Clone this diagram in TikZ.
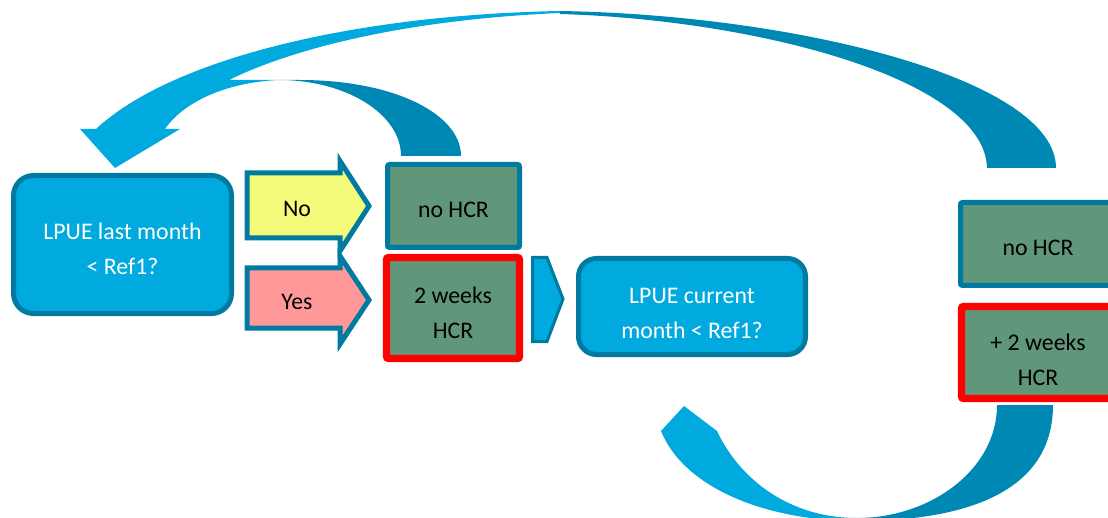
\documentclass[tikz,border=0pt]{standalone}
\usepackage{fontspec}
\setmainfont{Carlito}
\usetikzlibrary{calc}

\definecolor{lblue}{RGB}{0,170,222}
\definecolor{dblue}{RGB}{0,136,180}
\definecolor{edge}{RGB}{0,122,160}
\definecolor{yel}{RGB}{244,251,122}
\definecolor{pink}{RGB}{255,153,153}
\definecolor{hcr}{RGB}{96,150,122}

\tikzset{
	txt/.style = {font=\fontsize{11.9pt}{17.5pt}\selectfont, align=center, inner sep=0pt},
	qtxt/.style = {txt, text=white},
	question/.style = {draw=edge, line width=2.5pt, fill=lblue, rounded corners=10pt, inner sep=0pt},
	hcrbox/.style = {draw=edge, line width=2.5pt, fill=hcr, rounded corners=1pt, inner sep=0pt},
	hcrred/.style = {hcrbox, draw=red, line width=3.6pt},
	blockarrow/.style = {draw=edge, line width=2.5pt},
}

\begin{document}
\begin{tikzpicture}[x=0.5pt, y=-0.5pt]
%		\draw (0,0) grid[step=50] (1108,518);
		\clip (0,0) rectangle (1108,518);
		
		\coordinate (Htip) at (115,168);
		\coordinate (Btip) at (684,406);
		
		% curved arrows back to the start
		\fill[dblue] (560,11) .. controls (800,15) and (1056,80) .. (1056,168) -- (987,168)
			.. controls (985,80) and (760,20) .. (560,14) -- cycle;
		\fill[dblue] (279,80) -- (300,80) .. controls (394,80) and (461,114) .. (461,156) -- (401,156)
			.. controls (401,114) and (346,80) .. (279,80) -- cycle;
		\fill[lblue] (80,129) -- (96,129) .. controls (170,60) and (350,15) .. (560,11) -- (560,13)
			.. controls (400,20) and (290,50) .. (229,80) -- (279,80)
			.. controls (230,82) and (185,100) .. (165,129) -- (180,129) -- (Htip) -- cycle;
		
		\fill[dblue] (857,521) .. controls (960,521) and (1053,495) .. (1053,405) -- (997,405)
			.. controls (997,470) and (930,518) .. (857,518) -- cycle;
		\fill[lblue] (Btip) -- (717,431) .. controls (740,480) and (790,518) .. (857,518) -- (857,521)
			.. controls (770,521) and (685,490) .. (661,431) -- cycle;
		
		% block arrows
		\draw[blockarrow, fill=yel] (247,173) -- (340,173) -- (340,161) -- (369,206) -- (340,251) -- (340,238) -- (247,238) -- cycle;
		\draw[blockarrow, fill=pink] (247,268) -- (340,268) -- (340,256) -- (369,300) -- (340,344) -- (340,328) -- (247,328) -- cycle;
		\draw[draw=edge, line width=1.5pt, fill=lblue] (532.5,257.5) -- (547,257.5) -- (563,299) -- (547,341.5) -- (532.5,341.5) -- cycle;
		
		\node[txt] (no) at (297,209) {No};
		\node[txt] (yes) at (297,302) {Yes};
		
		% boxes
		\node[question, minimum width=109pt, minimum height=69pt,
			label={[qtxt, yshift=-2pt]center:{LPUE last month\\< Ref1?}}] (lastmonth) at (122.5,244.5) {};
		\node[hcrbox, minimum width=66pt, minimum height=41.5pt,
			label={[txt, yshift=-2pt]center:{no HCR}}] (nohcr1) at (453.5,206) {};
		\node[hcrred, minimum width=66.5pt, minimum height=50.5pt,
			label={[txt, yshift=-2.5pt]center:{2 weeks\\HCR}}] (hcr1) at (453,308) {};
		\node[question, minimum width=113.5pt, minimum height=48pt, rounded corners=9pt,
			label={[qtxt, yshift=-3.5pt]center:{LPUE current\\month < Ref1?}}] (curmonth) at (692,306.5) {};
		\node[hcrbox, minimum width=77.5pt, minimum height=41.5pt,
			label={[txt, yshift=-2pt]center:{no HCR}}] (nohcr2) at (1038,244) {};
		\node[hcrred, minimum width=76.5pt, minimum height=46pt,
			label={[txt, yshift=-3.5pt]center:{+ 2 weeks\\HCR}}] (hcr2) at (1038,352.5) {};
	\end{tikzpicture}
\end{document}
